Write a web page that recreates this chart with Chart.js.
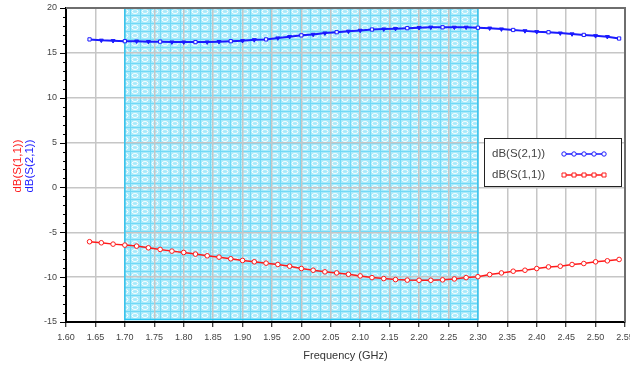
<!DOCTYPE html>
<html>
<head>
<meta charset="utf-8">
<script src="https://cdn.jsdelivr.net/npm/chart.js@4.4.1/dist/chart.umd.min.js"></script>
<style>
  html, body { margin: 0; padding: 0; background: #fff; }
  #wrap { width: 630px; height: 369px; }
</style>
</head>
<body>
<div id="wrap"><canvas id="chart" width="630" height="369"></canvas></div>
<script>
// sweep points (GHz)
const FREQ = [1.64, 1.66, 1.68, 1.70, 1.72, 1.74, 1.76, 1.78, 1.80, 1.82,
              1.84, 1.86, 1.88, 1.90, 1.92, 1.94, 1.96, 1.98, 2.00, 2.02,
              2.04, 2.06, 2.08, 2.10, 2.12, 2.14, 2.16, 2.18, 2.20, 2.22,
              2.24, 2.26, 2.28, 2.30, 2.32, 2.34, 2.36, 2.38, 2.40, 2.42,
              2.44, 2.46, 2.48, 2.50, 2.52, 2.54];

const S21 = [16.5, 16.4, 16.35, 16.3, 16.3, 16.25, 16.25, 16.2, 16.2, 16.2,
             16.2, 16.25, 16.3, 16.35, 16.45, 16.5, 16.65, 16.8, 16.95, 17.05,
             17.2, 17.3, 17.4, 17.5, 17.6, 17.65, 17.7, 17.75, 17.8, 17.85,
             17.85, 17.85, 17.85, 17.8, 17.75, 17.65, 17.55, 17.45, 17.35, 17.3,
             17.2, 17.1, 17.0, 16.9, 16.8, 16.6];

const S11 = [-6.05, -6.17, -6.32, -6.43, -6.54, -6.73, -6.91, -7.10, -7.25, -7.43,
             -7.62, -7.77, -7.95, -8.14, -8.29, -8.44, -8.59, -8.78, -9.04, -9.23,
             -9.41, -9.53, -9.68, -9.86, -10.05, -10.16, -10.27, -10.33, -10.35, -10.35,
             -10.3, -10.2, -10.05, -9.95, -9.71, -9.53, -9.34, -9.23, -9.04, -8.86,
             -8.78, -8.59, -8.48, -8.29, -8.18, -8.03];

const SERIES_LABELS = ['dB(S(2,1))', 'dB(S(1,1))'];
const SERIES_COLORS = ['#1a1aff', '#ff1a1a'];

const X_MIN = 1.60, X_MAX = 2.55, X_STEP = 0.05;
const Y_MIN = -15, Y_MAX = 20, Y_STEP = 5;
const BAND = [1.70, 2.30];   // shaded pass band

const FONT = 'Liberation Sans, Arial, sans-serif';

function makeHatch() {
  const c = document.createElement('canvas');
  c.width = 10; c.height = 8;
  const g = c.getContext('2d');
  g.fillStyle = '#a8eafb';
  g.fillRect(0, 0, 10, 8);
  g.strokeStyle = 'rgba(255,255,255,0.95)';
  g.lineWidth = 1;
  g.beginPath();
  g.ellipse(5, 3.5, 3, 2, 0, 0, Math.PI * 2);
  g.stroke();
  g.fillStyle = '#72d9f6';
  g.fillRect(0, 7, 10, 1);
  g.fillRect(0, 0, 1, 8);
  return g.createPattern(c, 'repeat');
}
const hatch = makeHatch();

function drawMarker(ctx, style, x, y, color) {
  ctx.strokeStyle = color;
  ctx.fillStyle = '#fff';
  ctx.lineWidth = 1;
  ctx.beginPath();
  if (style === 'rect') ctx.rect(x - 2, y - 2, 4, 4);
  else ctx.arc(x, y, 2.2, 0, Math.PI * 2);
  ctx.fill();
  ctx.stroke();
}

const framePlugin = {
  id: 'frame',
  beforeDraw(chart) {
    const { ctx, chartArea: a, scales: { x } } = chart;
    const x0 = x.getPixelForValue(BAND[0]);
    const x1 = x.getPixelForValue(BAND[1]);
    ctx.save();
    ctx.fillStyle = hatch;
    ctx.fillRect(x0, a.top, x1 - x0, a.bottom - a.top - 2);
    ctx.restore();
  },
  beforeDatasetsDraw(chart) {
    const { ctx, chartArea: a, scales: { x, y } } = chart;
    ctx.save();
    // band outline
    const x0 = x.getPixelForValue(BAND[0]);
    const x1 = x.getPixelForValue(BAND[1]);
    ctx.strokeStyle = '#2ac4f2';
    ctx.lineWidth = 1.5;
    ctx.strokeRect(x0, a.top + 0.5, x1 - x0, a.bottom - a.top - 3);
    // top + right frame
    ctx.strokeStyle = '#6e6e6e';
    ctx.lineWidth = 2;
    ctx.beginPath();
    ctx.moveTo(a.left, a.top);
    ctx.lineTo(a.right, a.top);
    ctx.lineTo(a.right, a.bottom);
    ctx.stroke();
    // y major/minor ticks
    ctx.strokeStyle = '#000';
    ctx.lineWidth = 1;
    for (let v = Y_MIN; v <= Y_MAX; v++) {
      const py = Math.round(y.getPixelForValue(v)) + 0.5;
      const len = v % Y_STEP === 0 ? 6 : 3;
      ctx.beginPath();
      ctx.moveTo(a.left - len, py);
      ctx.lineTo(a.left, py);
      ctx.stroke();
    }
    ctx.restore();
  },
  afterDraw(chart) {
    const { ctx } = chart;
    ctx.save();
    // y title, two colours stacked side by side
    ctx.font = '11.5px ' + FONT;
    ctx.textAlign = 'center';
    ctx.textBaseline = 'middle';
    ctx.translate(18, 166);
    ctx.rotate(-Math.PI / 2);
    ctx.fillStyle = SERIES_COLORS[1];
    ctx.fillText(SERIES_LABELS[1], 0, 0);
    ctx.fillStyle = SERIES_COLORS[0];
    ctx.fillText(SERIES_LABELS[0], 0, 12);
    ctx.restore();

    // legend box
    ctx.save();
    const bx = 484, by = 138, bw = 137, bh = 48;
    ctx.fillStyle = '#fff';
    ctx.fillRect(bx, by, bw, bh);
    ctx.strokeStyle = '#222';
    ctx.lineWidth = 1;
    ctx.strokeRect(bx + 0.5, by + 0.5, bw, bh);
    ctx.font = '11.5px ' + FONT;
    ctx.textBaseline = 'middle';
    const rows = [by + 16, by + 37];
    const styles = ['circle', 'rect'];
    rows.forEach((ry, i) => {
      ctx.fillStyle = '#444';
      ctx.fillText(SERIES_LABELS[i], bx + 8, ry);
      ctx.strokeStyle = SERIES_COLORS[i];
      ctx.lineWidth = 1.5;
      ctx.beginPath();
      ctx.moveTo(563, ry);
      ctx.lineTo(604, ry);
      ctx.stroke();
      for (let k = 0; k < 5; k++) drawMarker(ctx, styles[i], 564 + k * 10, ry, SERIES_COLORS[i]);
    });
    ctx.restore();
  }
};

const toPoints = (ys) => FREQ.map((f, i) => ({ x: f, y: ys[i] }));

new Chart(document.getElementById('chart'), {
  type: 'line',
  data: {
    datasets: [
      {
        label: SERIES_LABELS[0],
        data: toPoints(S21),
        borderColor: SERIES_COLORS[0],
        borderWidth: 2,
        pointStyle: (c) => (c.dataIndex % 3 === 0 ? 'rect' : 'triangle'),
        pointRotation: (c) => (c.dataIndex % 3 === 0 ? 0 : 180),
        pointRadius: 2.3,
        pointBorderWidth: 1,
        pointBorderColor: SERIES_COLORS[0],
        pointBackgroundColor: (c) => (c.dataIndex % 3 === 0 ? '#fff' : SERIES_COLORS[0]),
        tension: 0,
      },
      {
        label: SERIES_LABELS[1],
        data: toPoints(S11),
        borderColor: SERIES_COLORS[1],
        borderWidth: 1.5,
        pointStyle: 'circle',
        pointRadius: 2.3,
        pointBorderWidth: 1,
        pointBorderColor: SERIES_COLORS[1],
        pointBackgroundColor: '#fff',
        tension: 0,
      },
    ],
  },
  options: {
    responsive: false,
    animation: false,
    layout: { padding: { top: 8, right: 5, left: 0, bottom: 0 } },
    plugins: { legend: { display: false }, tooltip: { enabled: false } },
    scales: {
      x: {
        type: 'linear',
        min: X_MIN, max: X_MAX,
        grid: { color: '#c6c6c6', lineWidth: 1.5, tickColor: '#000', tickLength: 5, tickWidth: 1 },
        border: { color: '#000', width: 2 },
        ticks: {
          stepSize: X_STEP,
          autoSkip: false,
          maxRotation: 0,
          padding: 5,
          color: '#444',
          font: { family: FONT, size: 9 },
          callback: (v) => Number(v).toFixed(2),
        },
        title: {
          display: true,
          text: 'Frequency (GHz)',
          color: '#333',
          font: { family: FONT, size: 11 },
          padding: { top: 4, bottom: 6 },
        },
        afterFit(scale) {
          scale.height = 47;
          scale.paddingLeft = 0;
          scale.paddingRight = 0;
        },
      },
      y: {
        min: Y_MIN, max: Y_MAX,
        grid: { color: '#c6c6c6', lineWidth: 1.5, drawTicks: false },
        border: { color: '#000', width: 2 },
        ticks: {
          stepSize: Y_STEP,
          padding: 9,
          color: '#444',
          font: { family: FONT, size: 9 },
        },
        afterFit(scale) {
          scale.width = 66;
          scale.paddingTop = 0;
          scale.paddingBottom = 0;
        },
      },
    },
  },
  plugins: [framePlugin],
});
</script>
</body>
</html>
